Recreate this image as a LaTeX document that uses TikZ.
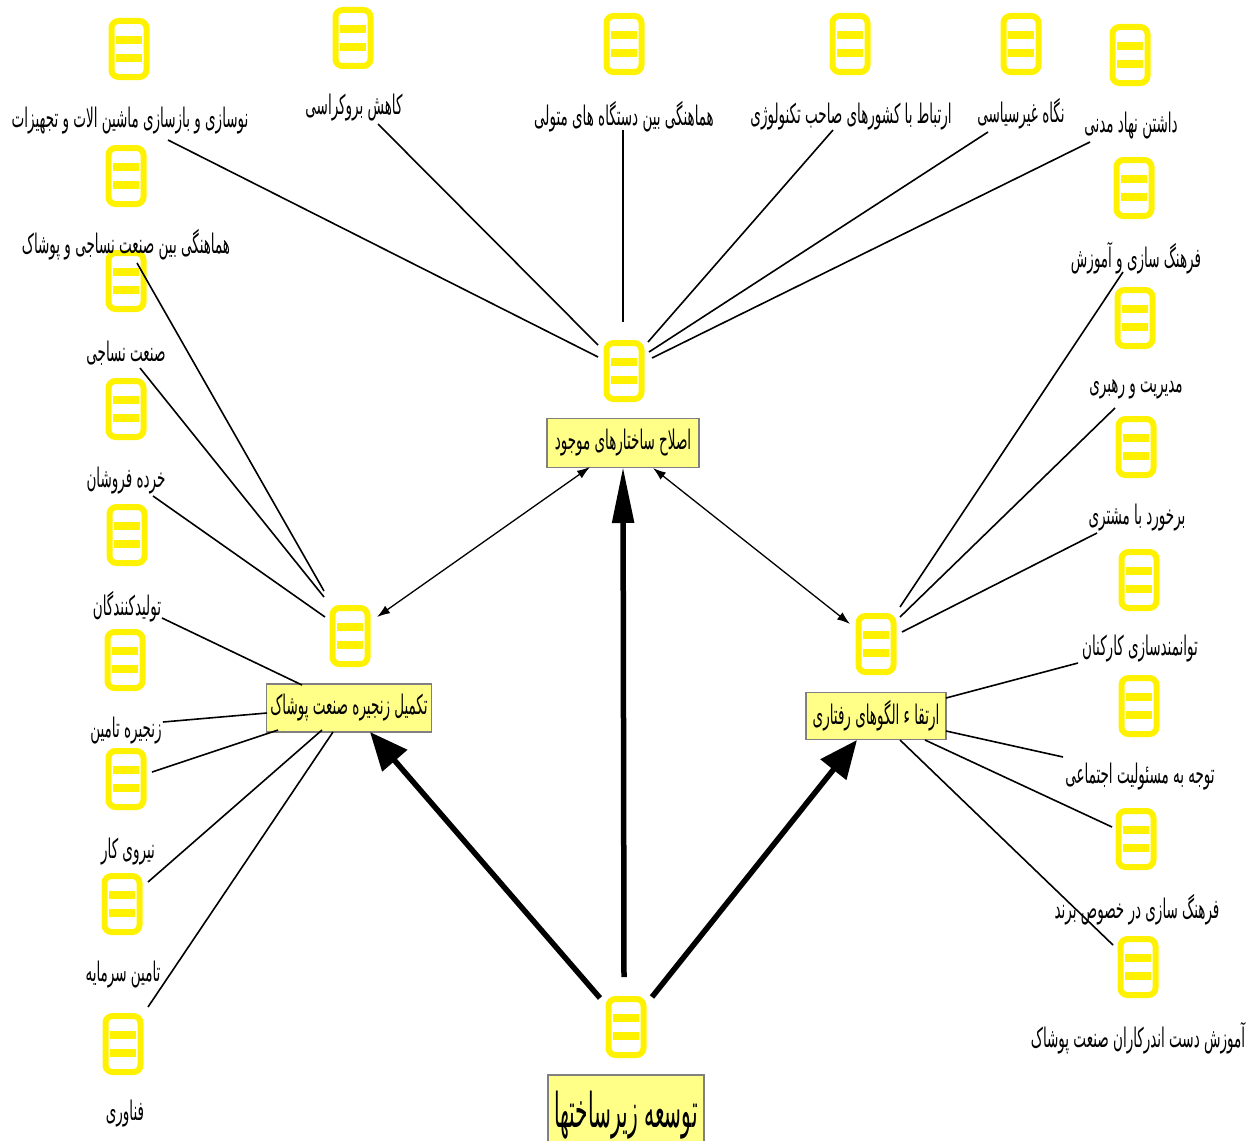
\documentclass[tikz,border=0pt]{standalone}
\usepackage{fontspec}
\usetikzlibrary{arrows.meta}
\TeXXeTstate=1
\newfontfamily\fa[Script=Arabic,FakeStretch=0.5]{DejaVu Sans}
\newfontfamily\fab[Script=Arabic,FakeStretch=0.42]{DejaVu Sans}
\newcommand\ftx[1]{\beginR#1\endR}
\definecolor{iconyel}{RGB}{255,242,0}
\definecolor{boxyel}{RGB}{255,255,136}
\definecolor{boxgray}{RGB}{128,128,128}
\tikzset{
  icon/.style={rectangle,draw=iconyel,line width=6pt,rounded corners=7pt,fill=white,
    minimum width=35pt,minimum height=56pt,inner sep=0pt,
    path picture={
      \fill[iconyel,sharp corners] ([shift={(-13pt,5pt)}]path picture bounding box.center) rectangle ([shift={(13pt,13pt)}]path picture bounding box.center);
      \fill[iconyel,sharp corners] ([shift={(-13pt,-5pt)}]path picture bounding box.center) rectangle ([shift={(13pt,-13pt)}]path picture bounding box.center);
    }},
  lab/.style={inner sep=0pt,font=\fa\fontsize{27}{30}\selectfont},
  boxn/.style={draw=boxgray,line width=1.6pt,fill=boxyel,inner sep=3pt,font=\fa\fontsize{27}{30}\selectfont},
  conn/.style={line width=1.6pt,black},
  dbl/.style={line width=1.3pt,{Latex[length=13pt,width=9pt]}-{Latex[length=13pt,width=9pt]}},
  bigv/.style={line width=5.5pt,-{Triangle[length=56pt,width=21pt]}},
  bigd/.style={line width=5.5pt,-{Triangle[length=38pt,width=32pt]}}
}
\begin{document}
\begin{tikzpicture}[x=1pt,y=-1pt]
\useasboundingbox (0,0) rectangle (1255,1140);
% icons
\node[icon] (i1) at (129,49) {};
\node[icon] (i2) at (353,38) {};
\node[icon] (i3) at (624,44) {};
\node[icon] (i4) at (850,44) {};
\node[icon] (i5) at (1021,44) {};
\node[icon] (i6) at (1130,55) {};
\node[icon] (i7) at (1134,188) {};
\node[icon] (i8) at (1135,318) {};
\node[icon] (i9) at (1136,447) {};
\node[icon] (i10) at (1139,580) {};
\node[icon] (i11) at (1139,706) {};
\node[icon] (i12) at (1136,839) {};
\node[icon] (i13) at (1138,967) {};
\node[icon] (i14) at (126,176) {};
\node[icon] (i15) at (126,281) {};
\node[icon] (i16) at (126,409) {};
\node[icon] (i17) at (127,535) {};
\node[icon] (i18) at (125,660) {};
\node[icon] (i19) at (126,779) {};
\node[icon] (i20) at (122,904) {};
\node[icon] (i21) at (123,1044) {};
\node[icon] (hA) at (624,371) {};
\node[icon] (hB) at (350,636) {};
\node[icon] (hC) at (876,644) {};
\node[icon] (hD) at (626,1027) {};
% labels
\node[lab] (l1) at (130,121) {\ftx{نوسازی و بازسازی ماشین الات و تجهیزات}};
\node[lab] (l2) at (354,108) {\ftx{کاهش بروکراسی}};
\node[lab] (l3) at (624,117) {\ftx{هماهنگی بین دستگاه های متولی}};
\node[lab] (l4) at (851,117) {\ftx{ارتباط با کشورهای صاحب تکنولوژی}};
\node[lab] (l5) at (1021,114) {\ftx{نگاه غیرسیاسی}};
\node[lab] (l6) at (1131,126) {\ftx{داشتن نهاد مدنی}};
\node[lab] (l7) at (1136,258) {\ftx{فرهنگ سازی و آموزش}};
\node[lab] (l8) at (1136,389) {\ftx{مدیریت و رهبری}};
\node[lab] (l9) at (1137,518) {\ftx{برخورد با مشتری}};
\node[lab] (l10) at (1140,649) {\ftx{توانمندسازی کارکنان}};
\node[lab] (l11) at (1140,777) {\ftx{توجه به مسئولیت اجتماعی}};
\node[lab] (l12) at (1137,910) {\ftx{فرهنگ سازی در خصوص برند}};
\node[lab] (l13) at (1138,1038) {\ftx{آموزش دست اندرکاران صنعت پوشاک}};
\node[lab] (l14) at (126,245) {\ftx{هماهنگی بین صنعت نساجی و پوشاک}};
\node[lab] (l15) at (126,353) {\ftx{صنعت نساجی}};
\node[lab] (l16) at (126,481) {\ftx{خرده فروشان}};
\node[lab] (l17) at (127,607) {\ftx{تولیدکنندگان}};
\node[lab] (l18) at (126,731) {\ftx{زنجیره تامین}};
\node[lab] (l19) at (128,852) {\ftx{نیروی کار}};
\node[lab] (l20) at (123,975) {\ftx{تامین سرمایه}};
\node[lab] (l21) at (125,1114) {\ftx{فناوری}};
% boxes
\node[boxn,minimum width=152pt,minimum height=49pt] (bA) at (623,443) {\ftx{اصلاح ساختارهای موجود}};
\node[boxn,minimum width=165pt,minimum height=48pt] (bB) at (349,708) {\ftx{تکمیل زنجیره صنعت پوشاک}};
\node[boxn,minimum width=140pt,minimum height=47pt] (bC) at (876,716) {\ftx{ارتقا ء الگوهای رفتاری}};
\node[boxn,minimum width=156pt,minimum height=80pt,font=\fab\fontsize{48}{52}\selectfont] (bD) at (626,1115) {\ftx{توسعه زیرساختها}};
% connector end points
\coordinate (a1) at (168,140); \coordinate (b1) at (598,357);
\coordinate (a2) at (378,124); \coordinate (b2) at (598,345);
\coordinate (a3) at (623,130); \coordinate (b3) at (623,322);
\coordinate (a4) at (833,130); \coordinate (b4) at (648,342);
\coordinate (a5) at (988,132); \coordinate (b5) at (649,352);
\coordinate (a6) at (1090,142); \coordinate (b6) at (652,358);
\coordinate (a7) at (1123,272); \coordinate (b7) at (900,607);
\coordinate (a8) at (1115,408); \coordinate (b8) at (900,617);
\coordinate (a9) at (1097,533); \coordinate (b9) at (902,632);
\coordinate (a10) at (1078,663); \coordinate (b10) at (946,698);
\coordinate (a11) at (1063,757); \coordinate (b11) at (946,731);
\coordinate (a12) at (1112,827); \coordinate (b12) at (925,740);
\coordinate (a13) at (1113,945); \coordinate (b13) at (900,740);
\coordinate (a14) at (137,263); \coordinate (b14) at (324,591);
\coordinate (a15) at (140,368); \coordinate (b15) at (324,597);
\coordinate (a16) at (153,496); \coordinate (b16) at (325,617);
\coordinate (a17) at (162,618); \coordinate (b17) at (302,685);
\coordinate (a18) at (163,722); \coordinate (b18) at (267,713);
\coordinate (a19) at (152,772); \coordinate (b19) at (278,730);
\coordinate (a20) at (148,882); \coordinate (b20) at (322,730);
\coordinate (a21) at (148,1007); \coordinate (b21) at (333,732);
\foreach \k in {1,...,21} {\draw[conn] (a\k) -- (b\k);}
% double arrows
\coordinate (dA1) at (590,467); \coordinate (dB1) at (377,617);
\coordinate (dA2) at (653,468); \coordinate (dC2) at (850,624);
\draw[dbl] (dA1) -- (dB1);
\draw[dbl] (dA2) -- (dC2);
% big arrows
\coordinate (s1) at (600,998); \coordinate (t1) at (370,732);
\coordinate (s2) at (624,977); \coordinate (t2) at (623,467);
\coordinate (s3) at (652,997); \coordinate (t3) at (857,740);
\draw[bigd] (s1) -- (t1);
\draw[bigv] (s2) -- (t2);
\draw[bigd] (s3) -- (t3);
\end{tikzpicture}
\end{document}
